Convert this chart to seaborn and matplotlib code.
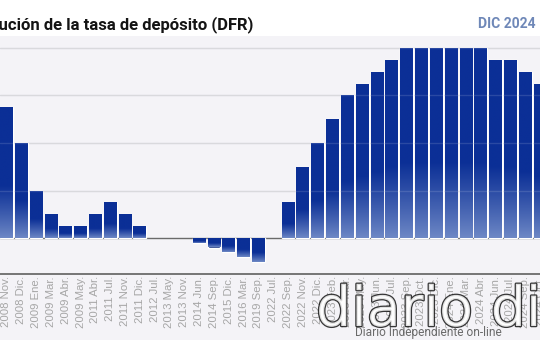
import matplotlib
matplotlib.use("Agg")
import matplotlib.pyplot as plt
import matplotlib.patheffects as pe
from matplotlib.patches import Rectangle
from matplotlib.colors import to_rgb
import numpy as np
import pandas as pd
import seaborn as sns

# ECB deposit facility rate (%) at each decision date
fechas = [
    "2008 Nov.", "2008 Dic.", "2009 Ene.", "2009 Mar.", "2009 Abr.", "2009 May.",
    "2011 Abr.", "2011 Jul.", "2011 Nov.", "2011 Dic.", "2012 Jul.", "2013 May.",
    "2013 Nov.", "2014 Jun.", "2014 Sep.", "2015 Dic.", "2016 Mar.", "2019 Sep.",
    "2022 Jul.", "2022 Sep.", "2022 Nov.", "2022 Dic.", "2023 Feb.", "2023 Mar.",
    "2023 May.", "2023 Jun.", "2023 Jul.", "2023 Sep.", "2023 Oct.", "2023 Dic.",
    "2024 Ene.", "2024 Mar.", "2024 Abr.", "2024 Jun.", "2024 Jul.", "2024 Sep.",
    "2024 Oct.",
]
tasa_dfr = [
    2.75, 2.00, 1.00, 0.50, 0.25, 0.25,
    0.50, 0.75, 0.50, 0.25, 0.00, 0.00,
    0.00, -0.10, -0.20, -0.30, -0.40, -0.50,
    0.00, 0.75, 1.50, 2.00, 2.50, 3.00,
    3.25, 3.50, 3.75, 4.00, 4.00, 4.00,
    4.00, 4.00, 4.00, 3.75, 3.75, 3.50,
    3.25,
]
titulo = "Evolución de la tasa de depósito (DFR)"
periodo = "DIC 2024"
grid_vals = [1, 2, 3, 4]

BG = "#f4f3f7"
DARK = "#0b2f96"
LIGHT = "#6f89c6"

sns.set_style("white")
plt.rcParams["font.family"] = ["Roboto", "DejaVu Sans"]

W, H = 540, 340
fig = plt.figure(figsize=(W / 100, H / 100), dpi=100, facecolor=BG)

# white title band
fig.patches.append(Rectangle((0, 1 - 36 / H), 1, 36 / H, transform=fig.transFigure,
                             facecolor="white", edgecolor="none", zorder=0))

ax_top, ax_bot = 37, 274
ax = fig.add_axes([0, 1 - ax_bot / H, 1, (ax_bot - ax_top) / H])
ax.set_facecolor(BG)

df = pd.DataFrame({"fecha": fechas, "tasa": tasa_dfr})
sns.barplot(data=df, x="fecha", y="tasa", order=fechas, color=DARK,
            width=0.86, ax=ax, zorder=2, errorbar=None)

# vertical gradient inside every bar: dark at the top, lighter towards the base
dark = np.array(to_rgb(DARK))
light = np.array(to_rgb(LIGHT))
n = 200
t = np.linspace(0, 1, n)
mix = np.clip(t / 0.40, 0, 1) ** 0.9
grad = (light[None, :] * (1 - mix[:, None]) + dark[None, :] * mix[:, None])
grad = grad[:, None, :]

for p in list(ax.patches):
    bb = p.get_bbox()
    x0, x1 = bb.x0, bb.x1
    y0, y1 = min(bb.y0, bb.y1), max(bb.y0, bb.y1)
    if y1 - y0 <= 0:
        p.set_visible(False)
        continue
    im = ax.imshow(grad, extent=[x0, x1, y0, y1], origin="lower", aspect="auto",
                   zorder=2.5, interpolation="bilinear")
    im.set_clip_path(p)

px_per_unit = 47.5
zero_px = 238
ax.set_ylim(-(ax_bot - zero_px) / px_per_unit, (zero_px - ax_top) / px_per_unit)
pitch = 14.93
first_px = 6.5
ax.set_xlim(-first_px / pitch, (W - first_px) / pitch)

for v in grid_vals:
    ax.axhline(v, color="#d4d4d9", lw=1.0, zorder=1)
    ax.axhline(v, color="white", lw=1.0, alpha=0.13, zorder=4)
ax.axhline(0, color="#6a6a6a", lw=1.0, zorder=1.5)

for s in ["top", "left", "right"]:
    ax.spines[s].set_visible(False)
ax.spines["bottom"].set_color("#6b6b6b")
ax.spines["bottom"].set_linewidth(1.3)

ax.set_yticks([])
ax.set_xlabel("")
ax.set_ylabel("")
ax.tick_params(axis="x", length=0, pad=1.5)
ax.set_xticks(range(len(fechas)))
ax.set_xticklabels(fechas, rotation=90, fontsize=8.2, color="#a6a6a6",
                   family=["Liberation Sans", "DejaVu Sans"])

fig.text(253 / W, 1 - 29 / H, titulo, ha="right", va="baseline", fontsize=12,
         fontweight="bold", color="#141414")
fig.text(478 / W, 1 - 28 / H, periodo, ha="left", va="baseline", fontsize=10,
         fontweight="bold", color="#6f88b8")

# publisher mark: white letters with a dark outline
mark = fig.text(316 / W, 1 - 326 / H, "diario dia", ha="left", va="baseline",
                fontsize=40, color="white", alpha=0.85, fontweight="normal",
                family="DejaVu Sans")
mark.set_path_effects([
    pe.Stroke(linewidth=1.8, foreground="#151515", joinstyle="round"),
    pe.Normal(),
])
fig.text(428 / W, 1 - 336 / H, "Diario Independiente on-line", ha="center",
         va="baseline", fontsize=8.6, color="#6a6a6a")

fig.savefig("out.png", dpi=100, facecolor=BG)
